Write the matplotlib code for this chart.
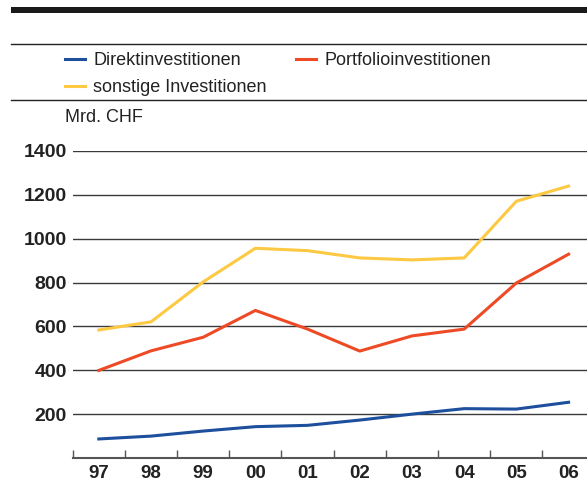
import matplotlib
matplotlib.use("Agg")
import matplotlib.pyplot as plt
from matplotlib.lines import Line2D
from matplotlib.patches import Rectangle
import numpy as np

years = ["97", "98", "99", "00", "01", "02", "03", "04", "05", "06"]
direkt = [88, 101, 124, 144, 150, 174, 201, 226, 224, 255]
portfolio = [400, 489, 551, 673, 588, 488, 557, 588, 798, 929]
sonstige = [584, 621, 803, 956, 945, 912, 903, 912, 1170, 1239]
yticks = [200, 400, 600, 800, 1000, 1200, 1400]

c_blue = "#1d4f9c"
c_red = "#ee4a25"
c_yellow = "#fdc943"

plt.rcParams["font.family"] = ["Liberation Sans", "DejaVu Sans"]

W, H = 587, 484
fig = plt.figure(figsize=(W / 100, H / 100), dpi=100)

# header rules
fig.patches.append(Rectangle((11 / W, 1 - 13 / H), 1, 6 / H, transform=fig.transFigure,
                             color="#1a1a1a", lw=0))
for yy in (43.7, 100.3):
    fig.lines.append(Line2D([11 / W, 1], [1 - yy / H] * 2, transform=fig.transFigure,
                            color="#222222", lw=1))

ax = fig.add_axes([72.7 / W, 1 - 458.3 / H, 1 - 72.7 / W, (458.3 - 150.7) / H])
x = np.arange(len(years))
l1, = ax.plot(x, direkt, color=c_blue, lw=2.2, label="Direktinvestitionen", zorder=3)
l2, = ax.plot(x, portfolio, color=c_red, lw=2.2, label="Portfolioinvestitionen", zorder=3)
l3, = ax.plot(x, sonstige, color=c_yellow, lw=2.2, label="sonstige Investitionen", zorder=3)

ax.set_xlim(-0.5, 9.353)
ax.set_ylim(0, 1400)
for v in yticks:
    ax.axhline(v, color="#3a3a3a", lw=1, zorder=1)

for s in ("top", "right", "left"):
    ax.spines[s].set_visible(False)
ax.spines["bottom"].set_color("#555555")
ax.spines["bottom"].set_linewidth(1.5)

ax.set_yticks(yticks)
ax.set_yticklabels([str(v) for v in yticks], fontweight="bold", fontsize=14, color="#222222")
ax.tick_params(axis="y", length=0, pad=4.3)

ax.set_xticks(np.arange(-0.5, 9.0, 1.0))
ax.set_xticklabels([])
ax.tick_params(axis="x", which="major", direction="in", length=5.5, width=1, color="#555555")
ax.set_xticks(x, minor=True)
ax.set_xticklabels(years, minor=True, fontweight="bold", fontsize=13.5, color="#222222")
ax.tick_params(axis="x", which="minor", length=0, pad=5)

fig.legend([l1, l3, l2], [l1.get_label(), l3.get_label(), l2.get_label()],
           ncol=2, loc="upper left", bbox_to_anchor=(65 / W, 1 - 52 / H),
           frameon=False, fontsize=13, handlelength=1.12, handletextpad=0.45,
           columnspacing=1.6, labelspacing=0.55, borderaxespad=0, borderpad=0,
           labelcolor="#222222")
for lh in fig.legends[0].get_lines():
    lh.set_linewidth(2.2)

fig.text(65 / W, 1 - 118 / H, "Mrd. CHF", fontsize=13, color="#222222", va="center", ha="left")

fig.savefig("out.png", dpi=100)
